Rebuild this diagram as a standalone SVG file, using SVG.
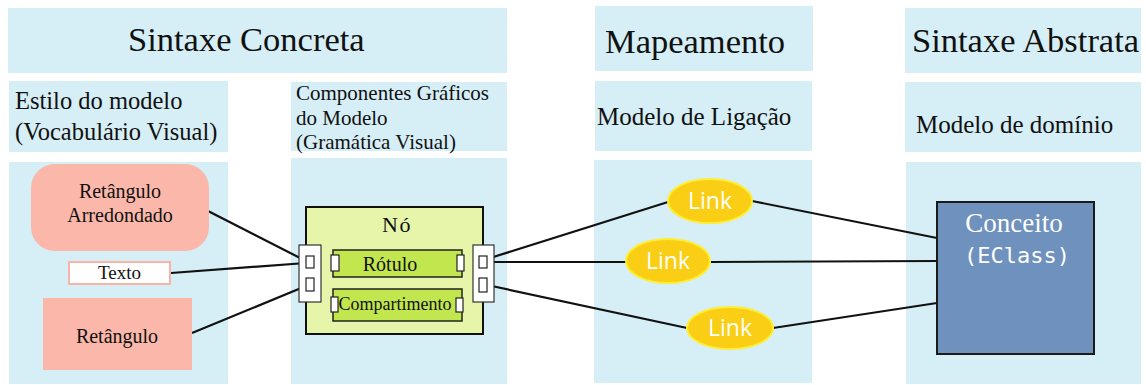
<svg xmlns="http://www.w3.org/2000/svg" width="1146" height="385" viewBox="0 0 1146 385">
  <style>
    .panel { fill: #D6EEF6; }
    .serif { font-family: "Liberation Serif", "Times New Roman", serif; fill: #111; }
    .head { font-size: 34.5px; }
    .sub { font-size: 25px; }
    .shape { fill: #FBB8AA; }
    .lbl { font-size: 20px; text-anchor: middle; }
    .node { fill: #E6F5AA; stroke: #111; stroke-width: 2; }
    .part { fill: #C2E64E; stroke: #222; stroke-width: 1.5; }
    .port { fill: #fff; stroke: #222; stroke-width: 1.2; }
    .col { fill: #fff; stroke: #333; stroke-width: 1.2; }
    .link { fill: #F9CE15; stroke: #FFEE30; stroke-width: 2; }
    .linktxt { font-family: "Open Sans", "Noto Sans", sans-serif; font-size: 23px; fill: #fff; text-anchor: middle; }
    .wire { stroke: #111; stroke-width: 2.2; fill: none; }
  </style>

  <!-- column backgrounds -->
  <g id="panels">
    <rect class="panel" x="8" y="8" width="499" height="65"/>
    <rect class="panel" x="595" y="6" width="218" height="65"/>
    <rect class="panel" x="905" y="8" width="236" height="65"/>

    <rect class="panel" x="9" y="81" width="219" height="71"/>
    <rect class="panel" x="291" y="82" width="216" height="69"/>
    <rect class="panel" x="595" y="81" width="217" height="70"/>
    <rect class="panel" x="905" y="82" width="236" height="70"/>

    <rect class="panel" x="9" y="162" width="219" height="222"/>
    <rect class="panel" x="291" y="158" width="216" height="226"/>
    <rect class="panel" x="594" y="160" width="218" height="223"/>
    <rect class="panel" x="906" y="162" width="235" height="222"/>
  </g>

  <!-- headings -->
  <g id="headings">
    <text class="serif head" x="128" y="51">Sintaxe Concreta</text>
    <text class="serif head" x="605" y="53">Mapeamento</text>
    <text class="serif head" x="912" y="52">Sintaxe Abstrata</text>

    <text class="serif" font-size="24.5" x="15" y="109">Estilo do modelo</text>
    <text class="serif" font-size="24.5" x="15" y="140">(Vocabulário Visual)</text>

    <text class="serif" font-size="21" x="296" y="100">Componentes Gráficos</text>
    <text class="serif" font-size="21" x="296" y="125">do Modelo</text>
    <text class="serif" font-size="21" x="296" y="149">(Gramática Visual)</text>

    <text class="serif sub" x="597" y="125">Modelo de Ligação</text>
    <text class="serif sub" x="916" y="133">Modelo de domínio</text>
  </g>

  <!-- connectors -->
  <g id="connectors">
    <line class="wire" x1="208" y1="211" x2="306" y2="261"/>
    <line class="wire" x1="171" y1="273" x2="306" y2="263"/>
    <line class="wire" x1="192" y1="333" x2="306" y2="286"/>

    <line class="wire" x1="314" y1="262" x2="331" y2="263"/>
    <line class="wire" x1="314" y1="284" x2="332" y2="302"/>
    <line class="wire" x1="464" y1="263" x2="479" y2="262"/>
    <line class="wire" x1="463" y1="302" x2="479" y2="285"/>

    <line class="wire" x1="487" y1="259" x2="668" y2="202"/>
    <line class="wire" x1="487" y1="262" x2="626" y2="262"/>
    <line class="wire" x1="487" y1="285" x2="687" y2="328"/>

    <line class="wire" x1="752" y1="201" x2="937" y2="238"/>
    <line class="wire" x1="711" y1="262" x2="937" y2="261"/>
    <line class="wire" x1="773" y1="328" x2="937" y2="303"/>
  </g>

  <!-- visual vocabulary -->
  <g id="retangulo-arredondado">
    <rect class="shape" x="31" y="164" width="178" height="87" rx="24"/>
    <text class="serif lbl" x="120" y="198">Retângulo</text>
    <text class="serif lbl" x="120" y="222">Arredondado</text>
  </g>
  <g id="texto">
    <rect x="69" y="262" width="101" height="22" fill="#fff" stroke="#F8B4A6" stroke-width="2"/>
    <text class="serif" font-size="19" text-anchor="middle" x="119.5" y="279">Texto</text>
  </g>
  <g id="retangulo">
    <rect class="shape" x="43" y="298" width="149" height="72"/>
    <text class="serif lbl" x="117" y="343">Retângulo</text>
  </g>

  <!-- graphical component: node with label and compartment -->
  <g id="no">
    <rect class="node" x="306" y="207" width="177" height="127"/>
    <text class="serif" font-size="22" letter-spacing="1.5" text-anchor="middle" x="397" y="232">Nó</text>
  </g>
  <g id="rotulo">
    <rect class="part" x="333" y="250" width="129" height="27"/>
    <text class="serif lbl" x="390" y="271">Rótulo</text>
    <rect class="port" x="331" y="255" width="8" height="16"/>
    <rect class="port" x="457" y="255" width="7" height="16"/>
  </g>
  <g id="compartimento">
    <rect class="part" x="333" y="289" width="129" height="32"/>
    <text class="serif" font-size="18" text-anchor="middle" x="395" y="310">Compartimento</text>
    <rect class="port" x="331" y="297" width="7" height="15"/>
    <rect class="port" x="456" y="298" width="7" height="14"/>
  </g>
  <g id="portas-esquerda">
    <rect class="col" x="299" y="245" width="22" height="57"/>
    <rect class="port" x="306" y="256" width="8" height="12"/>
    <rect class="port" x="306" y="278" width="8" height="13"/>
  </g>
  <g id="portas-direita">
    <rect class="col" x="473" y="245" width="21" height="57"/>
    <rect class="port" x="479" y="256" width="8" height="12"/>
    <rect class="port" x="479" y="278" width="8" height="14"/>
  </g>

  <!-- mapping links -->
  <g id="link-1">
    <ellipse class="link" cx="710" cy="201" rx="42" ry="22"/>
    <text class="linktxt" x="710" y="209">Link</text>
  </g>
  <g id="link-2">
    <ellipse class="link" cx="668" cy="261" rx="42" ry="22"/>
    <text class="linktxt" x="668" y="269">Link</text>
  </g>
  <g id="link-3">
    <ellipse class="link" cx="730" cy="328" rx="43" ry="21"/>
    <text class="linktxt" x="730" y="336">Link</text>
  </g>

  <!-- domain concept -->
  <g id="conceito">
    <rect x="937" y="202" width="157" height="152" fill="#6F91BE" stroke="#1a1a1a" stroke-width="2"/>
    <text class="serif" font-size="27" text-anchor="middle" x="1014" y="232" style="fill:#fff">Conceito</text>
    <text font-family="'DejaVu Sans Mono', 'Liberation Mono', monospace" font-size="22" text-anchor="middle" x="1017" y="263" fill="#fff">(EClass)</text>
  </g>
</svg>
